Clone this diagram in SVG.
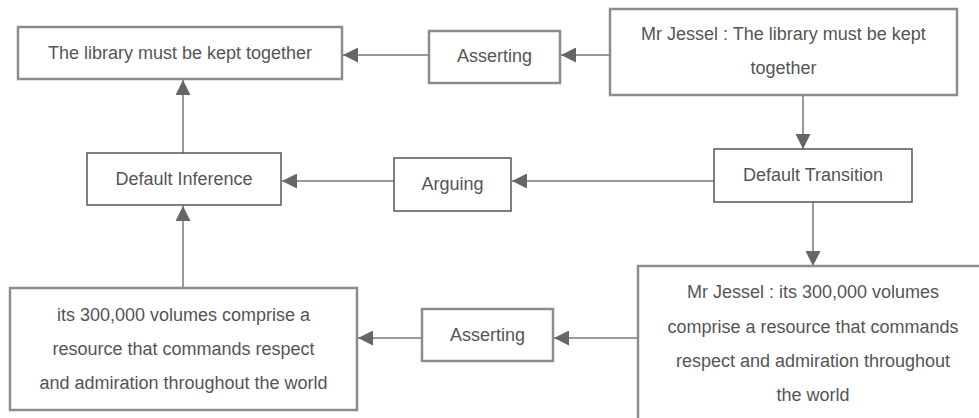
<svg xmlns="http://www.w3.org/2000/svg" width="979" height="418" viewBox="0 0 979 418">
  <style>
    .box { fill: #ffffff; stroke: #8c8c8c; stroke-width: 2.5; }
    .scheme { fill: #ffffff; stroke: #555555; stroke-width: 1.5; }
    .label { font-family: "Liberation Sans", Arial, sans-serif; font-size: 18px; fill: #555555; text-anchor: middle; }
    .edge { fill: none; stroke: #999999; stroke-width: 2; marker-end: url(#arrow); }
  </style>
  <defs>
    <marker id="arrow" markerUnits="userSpaceOnUse" markerWidth="15" markerHeight="15" refX="15" refY="7.5" orient="auto">
      <path d="M0,0 L15,7.5 L0,15 z" fill="#666666"/>
    </marker>
  </defs>
  <rect width="979" height="418" fill="#ffffff"/>

  <!-- connectors -->
  <g id="connectors">
    <line class="edge" x1="610" y1="55" x2="561" y2="55"/>
    <line class="edge" x1="429" y1="55" x2="343" y2="55"/>
    <line class="edge" x1="803" y1="95" x2="803" y2="149"/>
    <line class="edge" x1="714" y1="181" x2="512" y2="181"/>
    <line class="edge" x1="394" y1="181" x2="282" y2="181"/>
    <line class="edge" x1="183" y1="153" x2="183" y2="80"/>
    <line class="edge" x1="813" y1="202" x2="813" y2="266"/>
    <line class="edge" x1="638" y1="338" x2="554" y2="338"/>
    <line class="edge" x1="422" y1="338" x2="358" y2="338"/>
    <line class="edge" x1="183" y1="288" x2="183" y2="206"/>
  </g>

  <!-- nodes -->
  <g id="claim">
    <rect class="box" x="18" y="27" width="324" height="52"/>
    <text class="label" x="180" y="59">The library must be kept together</text>
  </g>
  <g id="asserting-top">
    <rect class="box" x="429" y="31" width="131" height="52"/>
    <text class="label" x="494.5" y="62">Asserting</text>
  </g>
  <g id="locution-top">
    <rect class="box" x="610" y="9" width="347" height="86"/>
    <text class="label" x="783.5" y="40">Mr Jessel : The library must be kept</text>
    <text class="label" x="783.5" y="74">together</text>
  </g>
  <g id="default-inference">
    <rect class="scheme" x="87" y="153" width="194" height="52"/>
    <text class="label" x="184" y="185">Default Inference</text>
  </g>
  <g id="arguing">
    <rect class="scheme" x="394" y="158" width="117" height="53"/>
    <text class="label" x="452.5" y="190">Arguing</text>
  </g>
  <g id="default-transition">
    <rect class="scheme" x="714" y="149" width="198" height="53"/>
    <text class="label" x="813" y="181">Default Transition</text>
  </g>
  <g id="premise">
    <rect class="box" x="10" y="288" width="347" height="122"/>
    <text class="label" x="183.5" y="321">its 300,000 volumes comprise a</text>
    <text class="label" x="183.5" y="355">resource that commands respect</text>
    <text class="label" x="183.5" y="389">and admiration throughout the world</text>
  </g>
  <g id="asserting-bottom">
    <rect class="box" x="422" y="309" width="131" height="52"/>
    <text class="label" x="487.5" y="341">Asserting</text>
  </g>
  <g id="locution-bottom">
    <rect class="box" x="638" y="266" width="352" height="160"/>
    <text class="label" x="813" y="298">Mr Jessel : its 300,000 volumes</text>
    <text class="label" x="813" y="332.5">comprise a resource that commands</text>
    <text class="label" x="813" y="367">respect and admiration throughout</text>
    <text class="label" x="813" y="401">the world</text>
  </g>
</svg>
